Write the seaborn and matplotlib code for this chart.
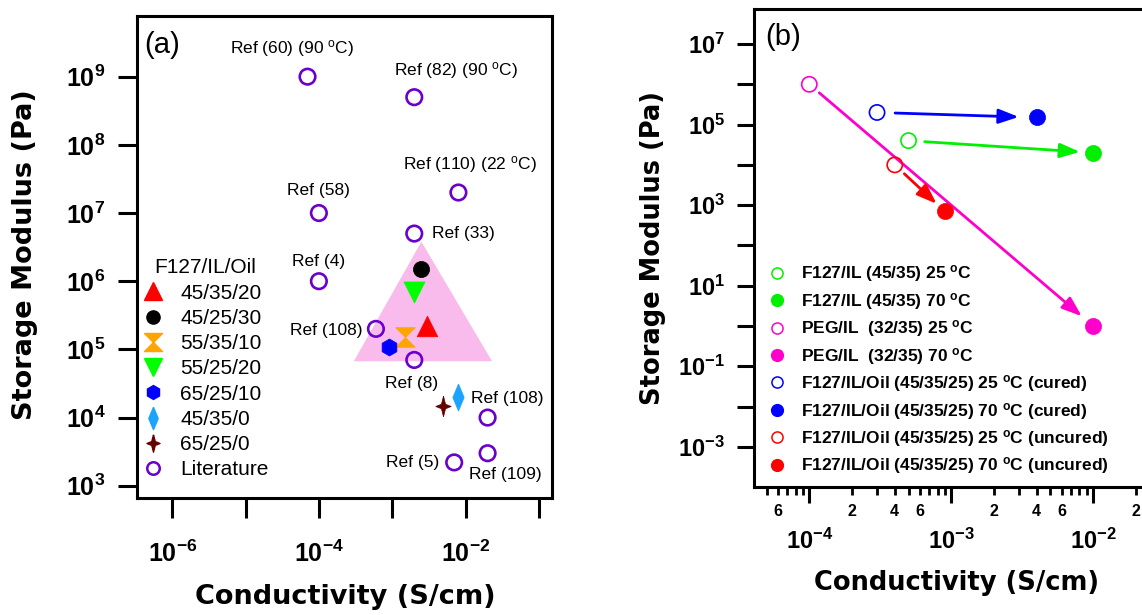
# Storage modulus vs conductivity: (a) F127/IL/Oil gels vs literature, (b) temperature effect

import numpy as np
import pandas as pd
import matplotlib
matplotlib.use('Agg')
import matplotlib.pyplot as plt
import seaborn as sns
from matplotlib.lines import Line2D
from matplotlib.ticker import FixedLocator, FuncFormatter, NullFormatter

sns.set_style('ticks')
plt.rcParams['font.family'] = ['Liberation Sans', 'DejaVu Sans']
plt.rcParams['mathtext.fontset'] = 'custom'
plt.rcParams['mathtext.rm'] = 'Liberation Sans'
plt.rcParams['mathtext.bf'] = 'Liberation Sans:bold'
plt.rcParams['mathtext.it'] = 'Liberation Sans:italic'
for key in ['text.color', 'axes.labelcolor', 'xtick.color', 'ytick.color', 'legend.labelcolor']:
    plt.rcParams[key] = 'black'

# ---- data, panel (a)
lit_refs = ['Ref (60) (90 $^{\\mathrm{o}}$C)', 'Ref (82) (90 $^{\\mathrm{o}}$C)',
            'Ref (110) (22 $^{\\mathrm{o}}$C)', 'Ref (58)', 'Ref (33)', 'Ref (4)',
            'Ref (108)', 'Ref (8)', 'Ref (108)', 'Ref (5)', 'Ref (109)']
lit_cond = [7e-5, 2e-3, 8e-3, 1e-4, 2e-3, 1e-4, 6e-4, 2e-3, 2e-2, 7e-3, 2e-2]
lit_mod = [1e9, 5e8, 2e7, 1e7, 5e6, 1e6, 2e5, 7e4, 1e4, 2.2e3, 3e3]

samp_names = ['45/35/20', '45/25/30', '55/35/10', '55/25/20', '65/25/10', '45/35/0', '65/25/0']
samp_cond = [3e-3, 2.5e-3, 1.5e-3, 2e-3, 9e-4, 8e-3, 5e-3]
samp_mod = [2.2e5, 1.5e6, 1.5e5, 7e5, 1.1e5, 2e4, 1.5e4]

region_cond = [3e-4, 2.5e-3, 2.3e-2]
region_mod = [6.7e4, 3.8e6, 6.7e4]

# ---- data, panel (b)
b_systems = ['F127/IL (45/35)', 'PEG/IL  (32/35)', 'F127/IL/Oil (45/35/25)', 'F127/IL/Oil (45/35/25)']
b_notes = ['', '', ' (cured)', ' (uncured)']
b_cond_25 = [5e-4, 1e-4, 3e-4, 4e-4]
b_mod_25 = [4e4, 1e6, 2e5, 1e4]
b_cond_70 = [1e-2, 1e-2, 4e-3, 9e-4]
b_mod_70 = [2e4, 1.0, 1.5e5, 7e2]

# ---- styles
hourglass = [(-1, 1), (1, 1), (-1, -1), (1, -1), (-1, 1)]
thin_diamond = [(0, 1), (0.42, 0), (0, -1), (-0.42, 0), (0, 1)]
star4 = [(0, 1), (0.2, 0.22), (0.75, 0), (0.2, -0.22), (0, -1),
         (-0.2, -0.22), (-0.75, 0), (-0.2, 0.22), (0, 1)]
samp_style = {
    '45/35/20': dict(marker='^', color='#FF0000', s=220, ms=13),
    '45/25/30': dict(marker='o', color='#000000', s=135, ms=9.5),
    '55/35/10': dict(marker=hourglass, color='#FFA500', s=200, ms=13),
    '55/25/20': dict(marker='v', color='#00FF00', s=230, ms=13),
    '65/25/10': dict(marker='h', color='#0000FF', s=150, ms=10),
    '45/35/0': dict(marker=thin_diamond, color='#1AA3FF', s=380, ms=16),
    '65/25/0': dict(marker=star4, color='#660000', s=220, ms=12.5),
}
lit_color = '#6A00CC'
b_colors = ['#00F000', '#FF00CC', '#0000FF', '#FF0000']
lab_off = [(-11, 20, 'center'), (30, 19, 'center'), (8, 20, 'center'), (0, 16, 'center'),
           (13, 0, 'left'), (0, 14, 'center'), (-10, -1, 'right'), (-2, -17, 'center'),
           (-12, 14, 'left'), (-11, 0, 'right'), (13, -15, 'center')]
label_font = dict(family='DejaVu Sans', fontweight='bold', va='center', color='black')

fig = plt.figure(figsize=(11.42, 6.15), dpi=100)
ax1 = fig.add_axes([0.1200, 0.1902, 0.3634, 0.7838])
ax2 = fig.add_axes([0.6602, 0.2086, 0.3555, 0.7768])


def bold_pow(v, pos):
    e = int(round(np.log10(v)))
    return r'$\mathbf{10^{%d}}$' % e


# ---- panel (a)
ax1.fill(region_cond, region_mod, color='#F9BBEB', lw=0, zorder=1)
for i, name in enumerate(samp_names):
    st = samp_style[name]
    sns.scatterplot(x=[samp_cond[i]], y=[samp_mod[i]], ax=ax1, marker=st['marker'],
                    s=st['s'], color=st['color'], edgecolor=st['color'], linewidth=0.5,
                    zorder=3, legend=False)
sns.scatterplot(x=lit_cond, y=lit_mod, ax=ax1, marker='o', s=125, facecolor='none',
                edgecolor=lit_color, linewidth=1.9, zorder=4, legend=False)
for i, txt in enumerate(lit_refs):
    dx, dy, ha = lab_off[i]
    ax1.annotate(txt, (lit_cond[i], lit_mod[i]), xytext=(dx, dy), textcoords='offset points',
                 ha=ha, va='center', fontsize=12.5)

ax1.set_xscale('log')
ax1.set_yscale('log')
ax1.set_xlim(10 ** -6.48, 10 ** -0.82)
ax1.set_ylim(10 ** 2.82, 10 ** 9.89)
ax1.xaxis.set_major_locator(FixedLocator([10.0 ** e for e in range(-7, 0)]))
ax1.xaxis.set_major_formatter(FuncFormatter(
    lambda v, p: bold_pow(v, p) if int(round(np.log10(v))) % 2 == 0 else ''))
ax1.xaxis.set_minor_locator(FixedLocator([]))
ax1.yaxis.set_major_locator(FixedLocator([10.0 ** e for e in range(3, 10)]))
ax1.yaxis.set_major_formatter(FuncFormatter(bold_pow))
ax1.yaxis.set_minor_locator(FixedLocator([]))
ax1.tick_params(axis='x', which='major', direction='out', length=14.4, width=2.2,
                pad=16, labelsize=18)
ax1.tick_params(axis='y', which='major', direction='out', length=13.7, width=2.2,
                pad=9, labelsize=18)
for sp in ax1.spines.values():
    sp.set_visible(True)
    sp.set_linewidth(2.2)
    sp.set_color('black')

ax1.set_xlabel('Conductivity (S/cm)', fontsize=19.5, **label_font)
ax1.set_ylabel('Storage Modulus (Pa)', fontsize=19.5, **label_font)
ax1.xaxis.set_label_coords(0.502, -0.205)
ax1.yaxis.set_label_coords(-0.27, 0.505)
ax1.text(0.06, 0.94, '(a)', transform=ax1.transAxes, fontsize=21, ha='center', va='center')

handles = []
for name in samp_names:
    st = samp_style[name]
    handles.append(Line2D([], [], ls='none', marker=st['marker'], ms=st['ms'],
                          color=st['color'], mec=st['color']))
handles.append(Line2D([], [], ls='none', marker='o', ms=9, mfc='none', mec=lit_color, mew=1.8))
leg1 = ax1.legend(handles, samp_names + ['Literature'], title='F127/IL/Oil', loc='upper left',
                  bbox_to_anchor=(-0.033, 0.536), frameon=False, fontsize=15, title_fontsize=15,
                  handlelength=1.0, handletextpad=0.83, labelspacing=0.3, borderpad=0.4)

# ---- panel (b)
b_labels = []
b_handles = []
for i in range(len(b_systems)):
    c = b_colors[i]
    sns.scatterplot(x=[b_cond_25[i]], y=[b_mod_25[i]], ax=ax2, marker='o', s=120,
                    facecolor='none', edgecolor=c, linewidth=1.2, zorder=4, legend=False)
    sns.scatterplot(x=[b_cond_70[i]], y=[b_mod_70[i]], ax=ax2, marker='o', s=135,
                    color=c, edgecolor=c, linewidth=0.5, zorder=4, legend=False)
    b_labels.append(b_systems[i] + r' 25 $^{\mathbf{o}}$C' + b_notes[i])
    b_labels.append(b_systems[i] + r' 70 $^{\mathbf{o}}$C' + b_notes[i])
    b_handles.append(Line2D([], [], ls='none', marker='o', ms=8, mfc='none', mec=c, mew=1.1))
    b_handles.append(Line2D([], [], ls='none', marker='o', ms=8.5, mfc=c, mec=c))

shrinks = [(11.7, 9.6), (9.4, 10.8), (13, 13), (9.4, 8)]
for i in range(len(b_systems)):
    ax2.annotate('', xy=(b_cond_70[i], b_mod_70[i]), xytext=(b_cond_25[i], b_mod_25[i]),
                 arrowprops=dict(arrowstyle='-|>,head_length=0.55,head_width=0.2',
                                 color=b_colors[i], lw=2.0, mutation_scale=22,
                                 shrinkA=shrinks[i][0], shrinkB=shrinks[i][1]),
                 zorder=3)

ax2.set_xscale('log')
ax2.set_yscale('log')
ax2.set_xlim(10 ** -4.39, 10 ** -1.53)
ax2.set_ylim(10 ** -3.99, 10 ** 7.87)
ax2.xaxis.set_major_locator(FixedLocator([1e-4, 1e-3, 1e-2, 1e-1]))
ax2.xaxis.set_major_formatter(FuncFormatter(bold_pow))
minors = [m * 10.0 ** e for e in range(-5, -1) for m in range(2, 10)]
ax2.xaxis.set_minor_locator(FixedLocator(minors))


def minor_lab(v, pos):
    m = int(round(v / 10 ** np.floor(np.log10(v) + 1e-9)))
    return r'$\mathbf{%d}$' % m if m in (2, 4, 6) else ''


ax2.xaxis.set_minor_formatter(FuncFormatter(minor_lab))
ax2.yaxis.set_major_locator(FixedLocator([10.0 ** e for e in range(-4, 8)]))
ax2.yaxis.set_major_formatter(FuncFormatter(
    lambda v, p: bold_pow(v, p) if int(round(np.log10(v))) % 2 != 0 else ''))
ax2.yaxis.set_minor_locator(FixedLocator([]))
ax2.tick_params(axis='x', which='major', direction='out', length=11.5, width=2.2,
                pad=18.5, labelsize=17)
ax2.tick_params(axis='x', which='minor', direction='out', length=5.5, width=2.0,
                pad=6.5, labelsize=11.5)
ax2.tick_params(axis='y', which='major', direction='out', length=12, width=2.2,
                pad=9, labelsize=17)
for sp in ax2.spines.values():
    sp.set_visible(True)
    sp.set_linewidth(2.2)
    sp.set_color('black')

ax2.set_xlabel('Conductivity (S/cm)', fontsize=18.5, **label_font)
ax2.set_ylabel('Storage Modulus (Pa)', fontsize=18.5, **label_font)
ax2.xaxis.set_label_coords(0.5, -0.2016)
ax2.yaxis.set_label_coords(-0.249, 0.4987)
ax2.text(0.071, 0.942, '(b)', transform=ax2.transAxes, fontsize=21, ha='center', va='center')

ax2.legend(b_handles, b_labels, loc='upper left', bbox_to_anchor=(-0.004, 0.5),
           frameon=False, prop={'size': 12.5, 'weight': 'bold'},
           handlelength=1.0, handletextpad=0.92, labelspacing=0.37, borderpad=0.4)

fig.savefig('out.png', dpi=100)
